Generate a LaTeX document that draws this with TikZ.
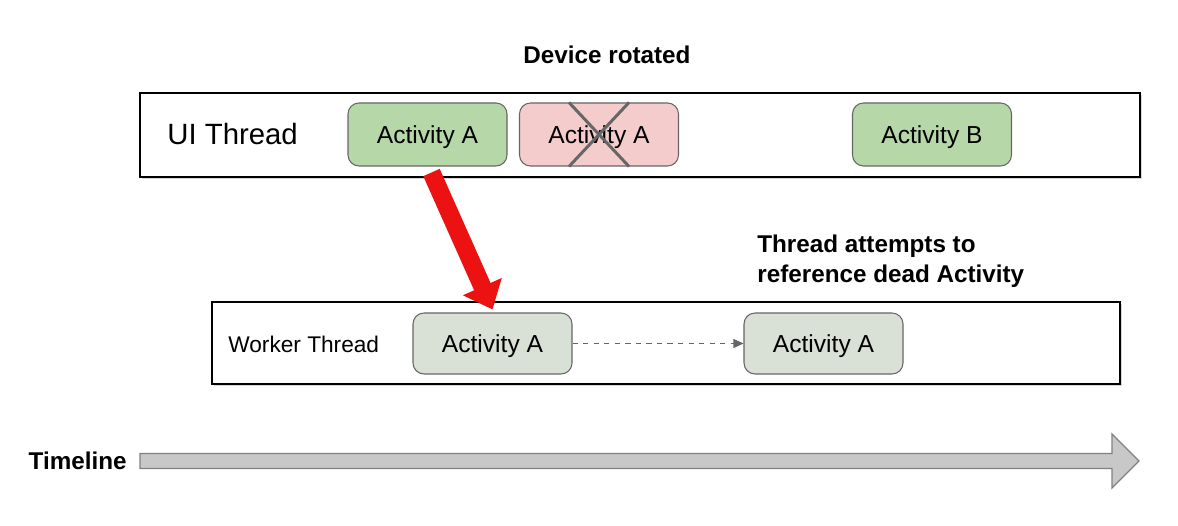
\documentclass[tikz,border=0pt]{standalone}
\usepackage{fontspec}
\setmainfont{Liberation Sans}
\definecolor{ActGreen}{RGB}{182,215,168}
\definecolor{ActPink}{RGB}{244,204,204}
\definecolor{ActGray}{RGB}{217,224,214}
\definecolor{BoxBorder}{RGB}{102,102,102}
\definecolor{ArrowRed}{RGB}{236,18,18}
\definecolor{TimeGray}{RGB}{200,200,200}
\definecolor{TimeBorder}{RGB}{128,128,128}
\usetikzlibrary{positioning, shapes, arrows.meta, calc, shadows}

\begin{document}
\begin{tikzpicture}[
  thread/.style={rectangle, draw=black, fill=white, line width=0.7pt, minimum width=20cm, minimum height=1.68cm, drop shadow={shadow xshift=1.2pt, shadow yshift=-1.2pt, fill=gray!60, opacity=0.5}},
  act/.style={rectangle, rounded corners=0.22cm, draw=BoxBorder, fill=ActGreen, line width=0.6pt, minimum width=3.18cm, minimum height=1.26cm, text depth=0pt, font=\fontsize{14}{17}\selectfont},
  deadact/.style={act, fill=ActPink},
  workact/.style={act, fill=ActGray, minimum height=1.22cm},
  title/.style={font=\fontsize{13.8}{17}\selectfont\bfseries, align=left, inner sep=0pt},
  crossline/.style={draw=BoxBorder, line width=1.7pt},
  redarrow/.style={draw=ArrowRed, line width=0.36cm, -{Triangle[length=0.5cm, width=0.82cm]}},
  dasharrow/.style={draw=BoxBorder, line width=0.6pt, dashed, -{Triangle[length=0.2cm, width=0.18cm]}},
  timearrow/.style={draw=TimeBorder, fill=TimeGray, line width=0.7pt}
]
\useasboundingbox (0,0) rectangle (23.56,10.52);

% UI thread (top)
\node[title, anchor=center] (rotated) at (12.14,9.42) {Device rotated};
\node[thread] (ui) at (12.8,7.82) {};
\node[font=\fontsize{16.7}{20}\selectfont, anchor=west, inner sep=0pt] (uilabel) at (3.34,7.84) {UI Thread};
\node[act] (uiA) at (8.55,7.83) {Activity A};
\node[deadact] (dead) at (11.98,7.83) {Activity A};
\node[act] (uiB) at (18.64,7.83) {Activity B};

\draw[crossline] ([xshift=-0.6cm]dead.north) -- ([xshift=0.6cm]dead.south);
\draw[crossline] ([xshift=0.6cm]dead.north) -- ([xshift=-0.6cm]dead.south);

% Worker thread (middle)
\node[title, anchor=west] (attempt) at (15.14,5.3) {Thread attempts to\\reference dead Activity};
\node[thread, minimum width=18.16cm, minimum height=1.64cm] (worker) at (13.32,3.66) {};
\node[font=\fontsize{12.9}{15}\selectfont, anchor=west, inner sep=0pt] (workerlabel) at (4.56,3.64) {Worker Thread};
\node[workact] (wA) at (9.85,3.65) {Activity A};
\node[workact] (wA2) at (16.47,3.65) {Activity A};

\draw[dasharrow] (wA) -- (wA2);
\draw[redarrow] ([xshift=0.08cm, yshift=-0.12cm]uiA.south) -- ([yshift=0.06cm]wA.north);

% Timeline (bottom)
\node[title, anchor=east] (timeline) at (2.54,1.3) {Timeline};
\coordinate (tstart) at (2.8,1.3);
\coordinate (thead) at (22.24,1.3);
\coordinate (tend) at (22.78,1.3);
\draw[timearrow] ($(tstart)+(0,0.15)$) -- ($(thead)+(0,0.15)$) -- ($(thead)+(0,0.54)$) -- (tend)
  -- ($(thead)+(0,-0.54)$) -- ($(thead)+(0,-0.15)$) -- ($(tstart)+(0,-0.15)$) -- cycle;
\end{tikzpicture}
\end{document}
